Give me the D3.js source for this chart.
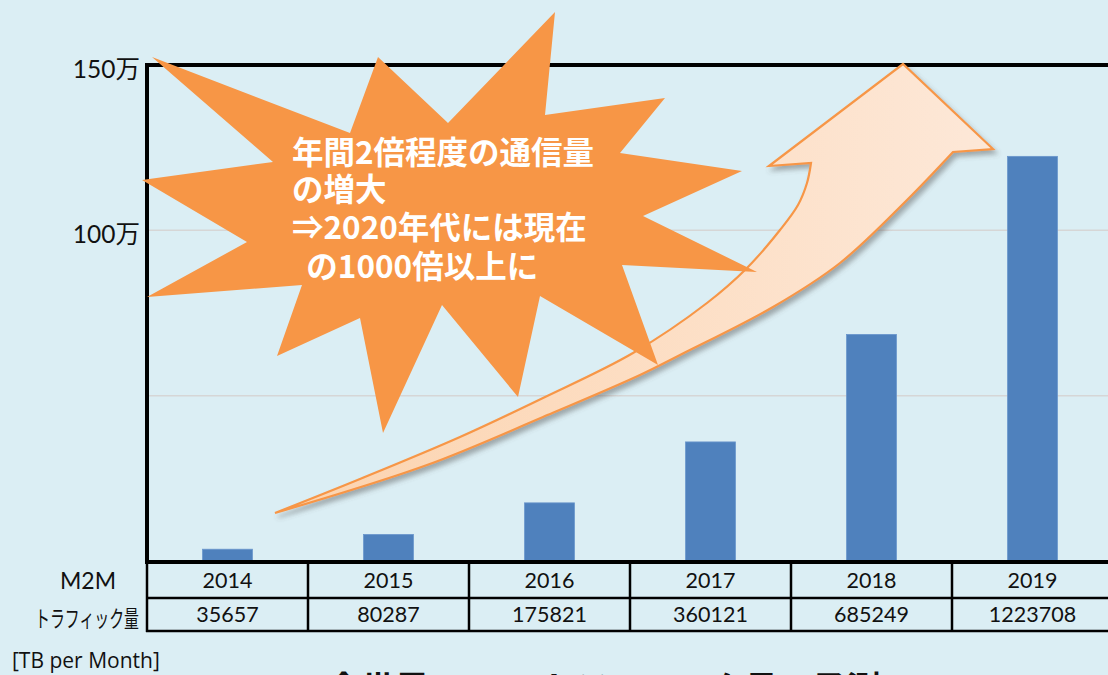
<!DOCTYPE html>
<html>
<head>
<meta charset="utf-8">
<script src="https://cdn.jsdelivr.net/npm/d3@7"></script>
<style>
  html, body { margin: 0; padding: 0; background: #dbeef4; overflow: hidden; }
  svg { display: block; }
</style>
</head>
<body>
<svg id="chart" width="1108" height="675"></svg>
<script>
// ---- data ----
const years = ["2014", "2015", "2016", "2017", "2018", "2019"];
const traffic = [35657, 80287, 175821, 360121, 685249, 1223708];
const yTickValues = [1000000, 1500000];
const yTickLabels = ["100万", "150万"];
const gridValues = [500000, 1000000];
const rowLabels = ["M2M", "トラフィック量"];
const calloutLines = ["年間2倍程度の通信量", "の増大", "⇒2020年代には現在", "\u00a0 の1000倍以上に"];
const unitLabel = "[TB per Month]";
const titleText = "全世界のM2Mトラフィック量の予測※";

(function () {
// ---- layout ----
const W = 1108, H = 675;
const pLeft = 147, pRight = 1113, pTop = 65, pBottom = 561;
const svg = d3.select("#chart");
const latin = "Lato, 'Noto Sans CJK JP', sans-serif";
const cjk = "'Noto Sans CJK JP', sans-serif";

svg.append("rect").attr("width", W).attr("height", H).attr("fill", "#dbeef4");

const x = d3.scaleBand().domain(years).range([pLeft, pRight]).paddingInner(0.69).paddingOuter(0.345);
const col = d3.scaleBand().domain(years).range([pLeft, pRight]).padding(0);
const y = d3.scaleLinear().domain([0, 1500000]).range([pBottom, pTop]);

// gridlines
svg.append("g").selectAll("line").data(gridValues).join("line")
  .attr("x1", pLeft).attr("x2", W).attr("y1", d => y(d)).attr("y2", d => y(d))
  .attr("stroke", "#d6d6d6").attr("stroke-width", 1.5);

// bars
svg.append("g").selectAll("rect").data(traffic).join("rect")
  .attr("x", (d, i) => x(years[i]))
  .attr("width", x.bandwidth())
  .attr("y", d => y(d))
  .attr("height", d => y(0) - y(d))
  .attr("fill", "#4f81bd")
  .attr("stroke", "#6a96cc").attr("stroke-width", 0.8);

// y axis labels
const yAxis = d3.axisLeft(y).tickValues(yTickValues).tickSize(0).tickPadding(7)
  .tickFormat((d, i) => yTickLabels[i]);
const yg = svg.append("g").attr("transform", `translate(${pLeft},0)`).call(yAxis);
yg.select(".domain").remove();
yg.selectAll("text").attr("font-family", latin).attr("font-size", 24.5).attr("fill", "#111").attr("dy", "0.5em");

// frame
const frame = svg.append("g").attr("stroke", "#000").attr("stroke-width", 4);
frame.append("line").attr("x1", pLeft - 2).attr("x2", W).attr("y1", pTop).attr("y2", pTop);
frame.append("line").attr("x1", pLeft).attr("x2", pLeft).attr("y1", pTop - 2).attr("y2", pBottom + 2);
frame.append("line").attr("x1", pLeft - 2).attr("x2", W).attr("y1", pBottom + 1).attr("y2", pBottom + 1);

// table
const rowY = [563, 598, 631];
const tbl = svg.append("g").attr("stroke", "#000").attr("stroke-width", 2.5);
tbl.append("line").attr("x1", pLeft - 1).attr("x2", W).attr("y1", rowY[1]).attr("y2", rowY[1]);
tbl.append("line").attr("x1", pLeft - 1).attr("x2", W).attr("y1", rowY[2]).attr("y2", rowY[2]);
tbl.selectAll(".v").data(years).join("line").attr("class", "v")
  .attr("x1", d => col(d)).attr("x2", d => col(d)).attr("y1", rowY[0]).attr("y2", rowY[2] + 1);

const tt = svg.append("g").attr("font-family", latin).attr("font-size", 21.5).attr("fill", "#111").attr("text-anchor", "middle");
tt.selectAll(".yr").data(years).join("text").attr("class", "yr")
  .attr("x", d => col(d) + col.bandwidth() / 2).attr("y", 588).text(d => d);
tt.selectAll(".val").data(traffic).join("text").attr("class", "val")
  .attr("x", (d, i) => col(years[i]) + col.bandwidth() / 2).attr("y", 622).text(d => d);

svg.append("text").attr("x", 88).attr("y", 589).attr("text-anchor", "middle")
  .attr("font-family", latin).attr("font-size", 23).attr("fill", "#111").text(rowLabels[0]);
svg.append("text").attr("x", 35).attr("y", 627)
  .attr("font-family", cjk).attr("font-size", 23).attr("fill", "#111")
  .attr("textLength", 104).attr("lengthAdjust", "spacingAndGlyphs").text(rowLabels[1]);

svg.append("text").attr("x", 12).attr("y", 668)
  .attr("font-family", "'Open Sans', Lato, sans-serif").attr("font-size", 21).attr("fill", "#111").text(unitLabel);

svg.append("text").attr("x", 327).attr("y", 701)
  .attr("font-family", cjk).attr("font-weight", "bold").attr("font-size", 34).attr("fill", "#111").text(titleText);

// ---- arrow annotation ----
const defs = svg.append("defs");
const grad = defs.append("linearGradient").attr("id", "arrowGrad")
  .attr("gradientUnits", "userSpaceOnUse").attr("x1", 275).attr("y1", 0).attr("x2", 1000).attr("y2", 0);
grad.append("stop").attr("offset", 0).attr("stop-color", "#fcd3ae");
grad.append("stop").attr("offset", 1).attr("stop-color", "#fde8d8");
const filt = defs.append("filter").attr("id", "shadow").attr("x", "-10%").attr("y", "-10%").attr("width", "130%").attr("height", "130%");
filt.append("feDropShadow").attr("dx", 3).attr("dy", 4).attr("stdDeviation", 2.5)
  .attr("flood-color", "#555").attr("flood-opacity", 0.45);

const upperEdge = [[275, 513], [360, 479], [460, 437], [543, 398], [633, 353], [707, 303], [747, 268], [780, 230], [798, 205], [807, 183], [811, 163]];
const head = [[769, 166], [903, 64], [993, 149], [953, 152]];
const lowerEdge = [[953, 152], [907, 200], [840, 263], [773, 307], [680, 355], [640, 375], [543, 417], [427, 465], [275, 513]];
const curve = d3.line().curve(d3.curveCatmullRom.alpha(0.5));
const pUpper = curve(upperEdge);
const pHead = head.map(p => `L${p[0]},${p[1]}`).join("");
const pLower = curve(lowerEdge).replace(/^M[^C]*/, "");
const arrowPath = pUpper + pHead + pLower + "Z";
svg.append("path").attr("d", arrowPath)
  .attr("fill", "url(#arrowGrad)").attr("stroke", "#f79646").attr("stroke-width", 2.2)
  .attr("stroke-linejoin", "miter").attr("filter", "url(#shadow)");

// ---- starburst callout ----
const burst = [
  [152, 57], [350, 133], [378, 57], [448, 123], [555, 12], [545, 115], [665, 98], [620, 153],
  [742, 171], [643, 216], [757, 272], [622, 265], [658, 365], [540, 296], [518, 397], [442, 305],
  [383, 433], [360, 318], [277, 356], [302, 285], [147, 297], [247, 242], [142, 180], [273, 162]
];
svg.append("path").attr("d", "M" + burst.map(p => p.join(",")).join("L") + "Z")
  .attr("fill", "#f79646");

const ct = svg.append("g").attr("font-family", cjk).attr("font-weight", "bold").attr("font-size", 31.5).attr("fill", "#fff");
const lineY = [164, 201, 239, 278];
ct.selectAll("text").data(calloutLines).join("text")
  .attr("x", 292).attr("y", (d, i) => lineY[i]).attr("xml:space", "preserve").text(d => d);
})();
</script>
</body>
</html>
